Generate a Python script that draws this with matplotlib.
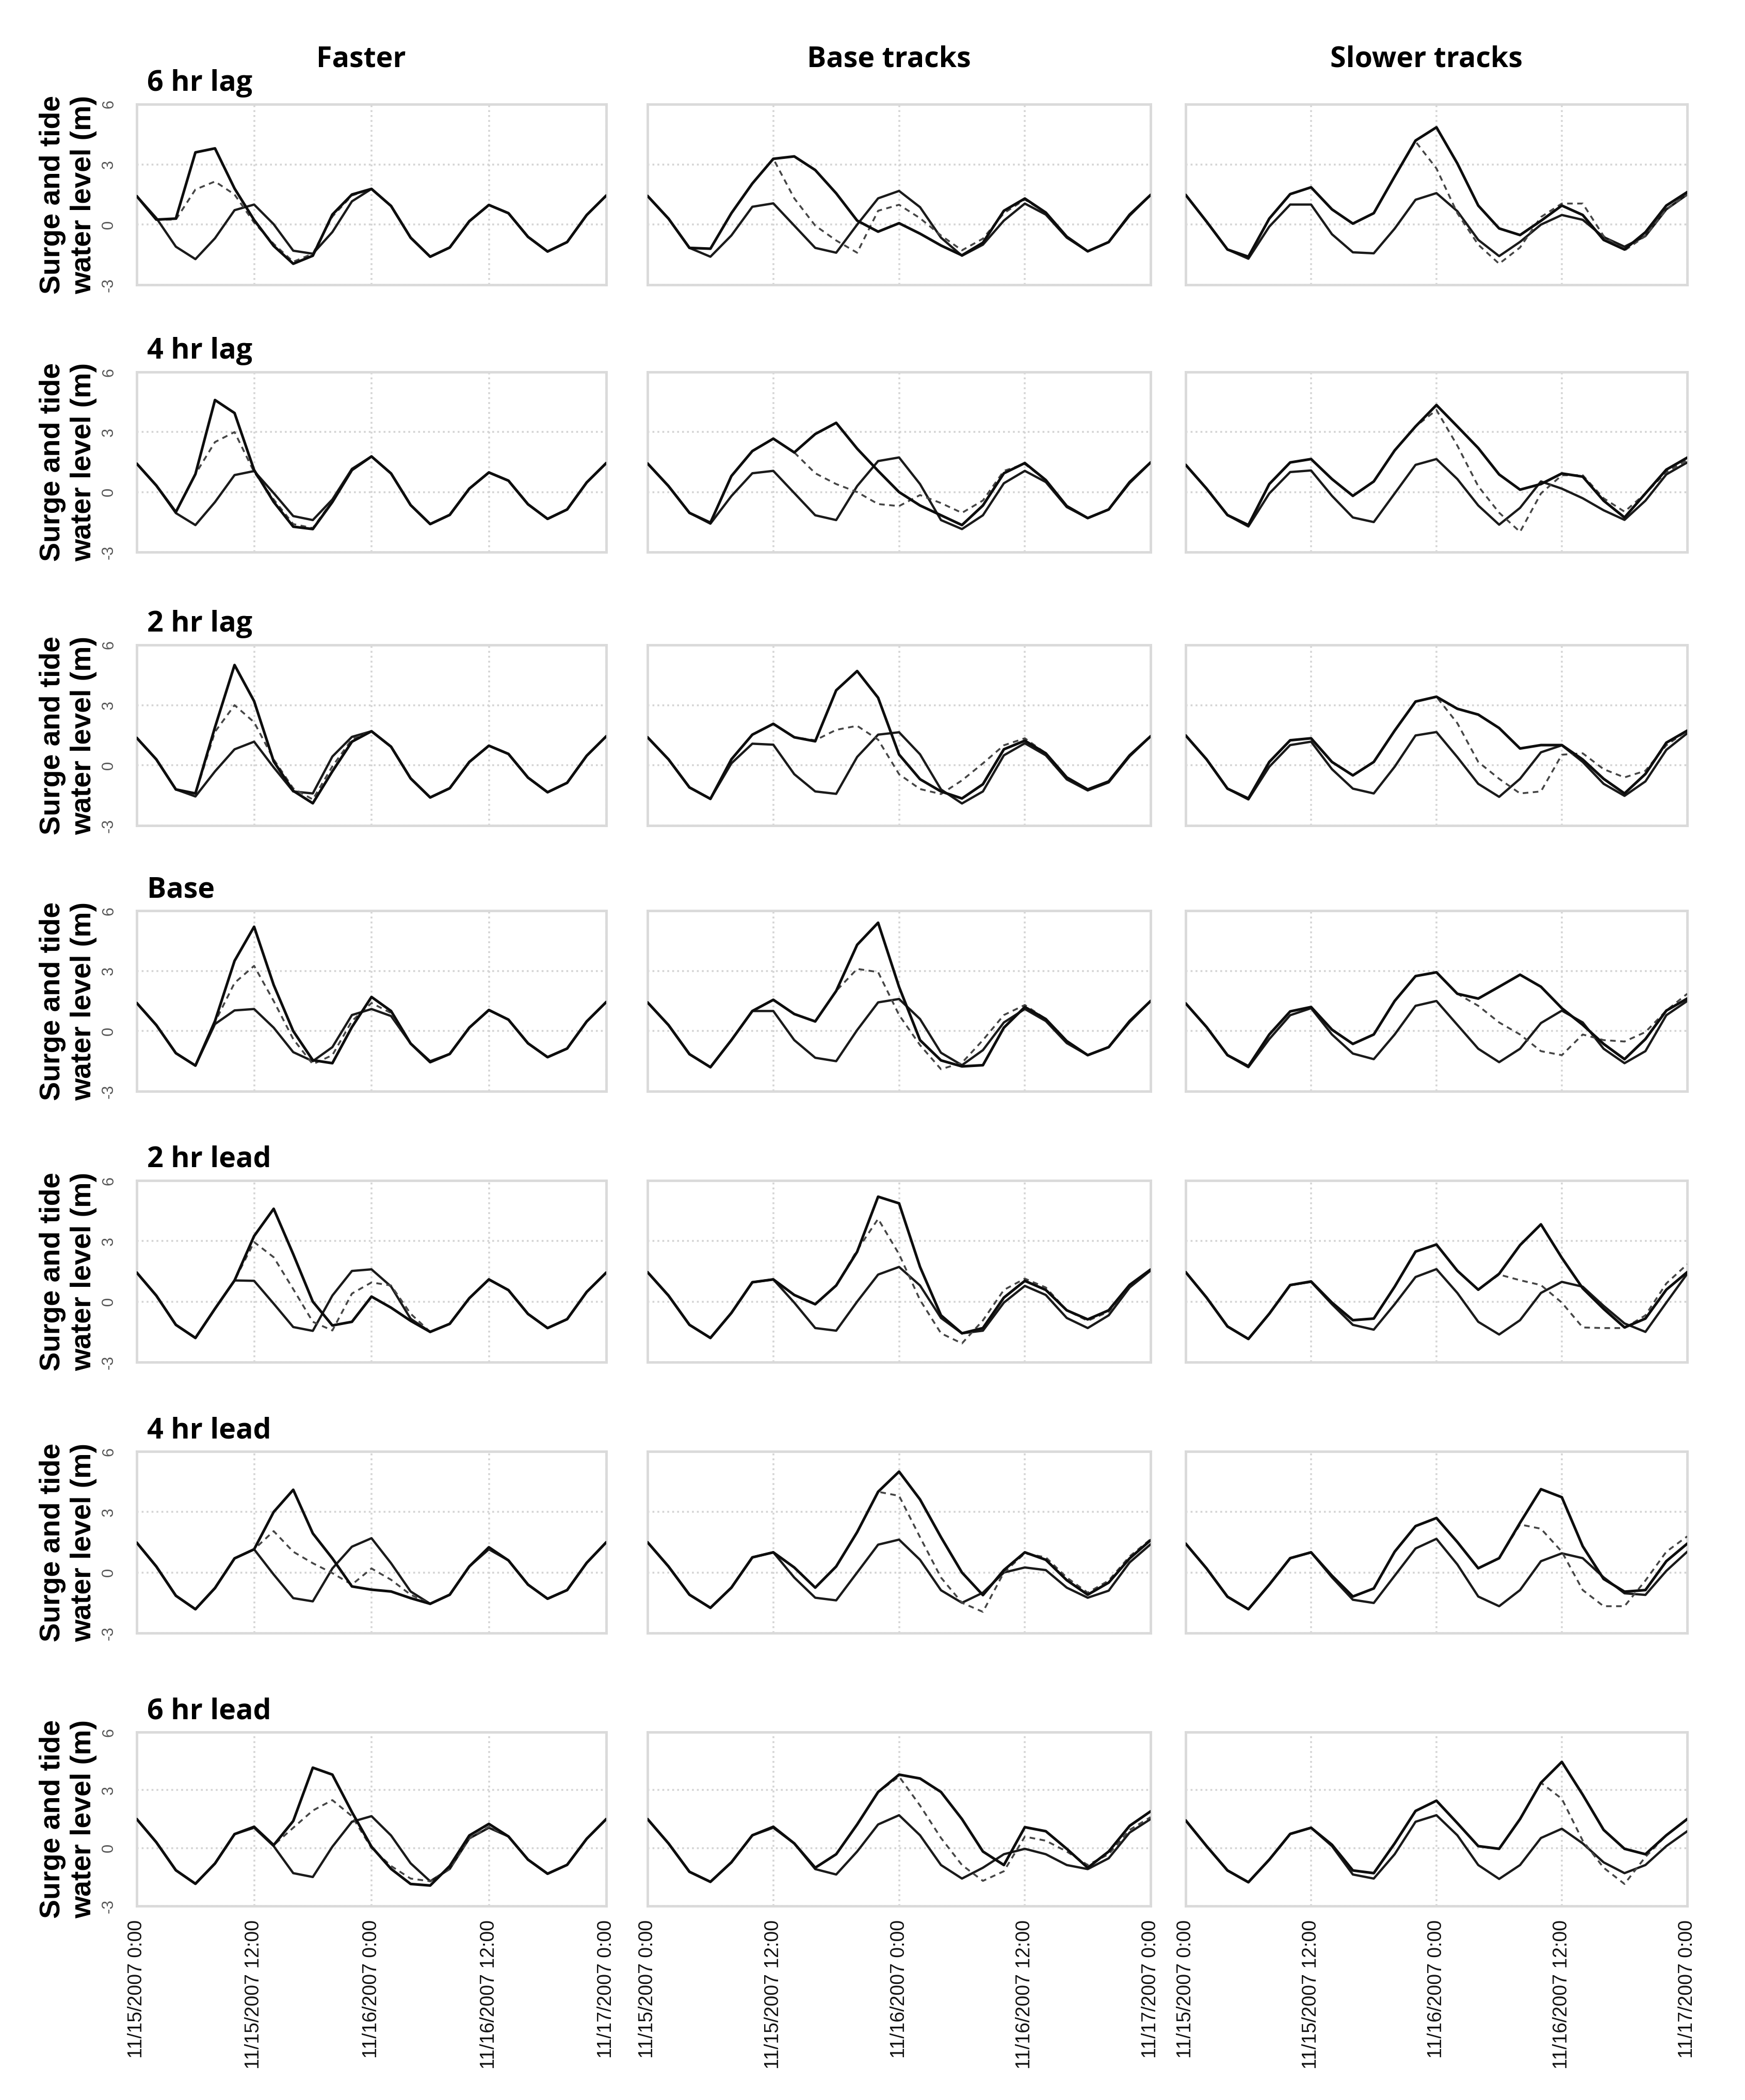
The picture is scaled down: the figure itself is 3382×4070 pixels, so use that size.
import matplotlib
matplotlib.use("Agg")
import matplotlib.pyplot as plt

# ---------------- data (hours since 11/15/2007 0:00, 2-hour steps) ----------------
HOURS = list(range(0, 49, 2))
X_TICKS = [0, 12, 24, 36, 48]
X_TICK_LABELS = ['11/15/2007 0:00', '11/15/2007 12:00', '11/16/2007 0:00',
                 '11/16/2007 12:00', '11/17/2007 0:00']
Y_TICKS = [-3, 0, 3, 6]
Y_TICK_LABELS = ['-3', '0', '3', '6']
COLUMN_TITLES = ['Faster', 'Base tracks', 'Slower tracks']
ROW_LABELS = ['6 hr lag', '4 hr lag', '2 hr lag', 'Base', '2 hr lead', '4 hr lead', '6 hr lead']
Y_LABEL = 'Surge and tide\nwater level (m)'

# Faster column
F_LAG6_S = [1.42, 0.25, 0.3, 3.6, 3.8, 1.8, 0.23, -1.06, -1.95, -1.55, 0.5, 1.5, 1.78, 0.93, -0.65, -1.6, -1.14, 0.17, 0.98, 0.57, -0.61, -1.34, -0.87, 0.48, 1.45]
F_LAG6_D = [1.42, 0.25, 0.25, 1.75, 2.15, 1.5, 0.1, -0.96, -1.85, -1.45, 0.4, 1.45, 1.78, 0.93, -0.65, -1.6, -1.14, 0.17, 0.98, 0.57, -0.61, -1.34, -0.87, 0.48, 1.45]
F_LAG6_T = [1.42, 0.33, -1.1, -1.72, -0.68, 0.72, 1.0, 0.02, -1.3, -1.45, -0.37, 1.16, 1.78, 0.93, -0.65, -1.6, -1.14, 0.17, 0.98, 0.57, -0.61, -1.34, -0.87, 0.48, 1.45]

F_LAG4_S = [1.42, 0.33, -1.0, 0.9, 4.6, 3.95, 1.1, -0.49, -1.73, -1.85, -0.5, 1.1, 1.78, 0.93, -0.65, -1.6, -1.14, 0.17, 0.98, 0.57, -0.61, -1.34, -0.87, 0.48, 1.45]
F_LAG4_D = [1.42, 0.33, -1.0, 0.9, 2.5, 3.0, 1.0, -0.37, -1.6, -1.8, -0.45, 1.12, 1.78, 0.93, -0.65, -1.6, -1.14, 0.17, 0.98, 0.57, -0.61, -1.34, -0.87, 0.48, 1.45]
F_LAG4_T = [1.42, 0.33, -1.05, -1.65, -0.5, 0.85, 1.05, -0.05, -1.2, -1.4, -0.37, 1.16, 1.78, 0.93, -0.65, -1.6, -1.14, 0.17, 0.98, 0.57, -0.61, -1.34, -0.87, 0.48, 1.45]

F_LAG2_S = [1.37, 0.3, -1.2, -1.4, 1.9, 5.0, 3.2, 0.2, -1.27, -1.89, -0.3, 1.18, 1.7, 0.93, -0.65, -1.6, -1.14, 0.17, 0.98, 0.57, -0.61, -1.34, -0.87, 0.48, 1.45]
F_LAG2_D = [1.37, 0.3, -1.2, -1.42, 1.67, 3.0, 2.15, 0.3, -1.15, -1.7, -0.05, 1.3, 1.7, 0.93, -0.65, -1.6, -1.14, 0.17, 0.98, 0.57, -0.61, -1.34, -0.87, 0.48, 1.45]
F_LAG2_T = [1.37, 0.3, -1.2, -1.55, -0.3, 0.8, 1.18, -0.1, -1.3, -1.4, 0.44, 1.42, 1.7, 0.93, -0.65, -1.6, -1.14, 0.17, 0.98, 0.57, -0.61, -1.34, -0.87, 0.48, 1.45]

F_BASE_S = [1.4, 0.3, -1.1, -1.72, 0.5, 3.5, 5.2, 2.3, 0.0, -1.45, -1.6, 0.2, 1.7, 1.0, -0.62, -1.55, -1.14, 0.17, 1.05, 0.57, -0.61, -1.3, -0.87, 0.48, 1.45]
F_BASE_D = [1.4, 0.3, -1.1, -1.72, 0.45, 2.4, 3.25, 1.5, -0.4, -1.65, -1.2, 0.5, 1.4, 0.9, -0.62, -1.55, -1.14, 0.17, 1.05, 0.57, -0.61, -1.3, -0.87, 0.48, 1.45]
F_BASE_T = [1.4, 0.3, -1.1, -1.72, 0.35, 1.03, 1.1, 0.17, -1.05, -1.5, -0.8, 0.8, 1.1, 0.75, -0.62, -1.5, -1.14, 0.17, 1.05, 0.57, -0.61, -1.3, -0.87, 0.48, 1.45]

F_LEAD2_S = [1.44, 0.3, -1.15, -1.8, -0.35, 1.05, 3.25, 4.6, 2.35, 0.0, -1.18, -1.0, 0.25, -0.3, -0.95, -1.5, -1.1, 0.17, 1.1, 0.57, -0.61, -1.31, -0.87, 0.48, 1.44]
F_LEAD2_D = [1.44, 0.3, -1.15, -1.8, -0.35, 1.05, 2.95, 2.2, 0.62, -1.0, -1.43, 0.4, 0.95, 0.8, -0.6, -1.5, -1.1, 0.17, 1.1, 0.57, -0.61, -1.31, -0.87, 0.48, 1.44]
F_LEAD2_T = [1.44, 0.3, -1.15, -1.8, -0.35, 1.05, 1.03, -0.1, -1.26, -1.45, 0.3, 1.52, 1.6, 0.75, -0.85, -1.5, -1.1, 0.17, 1.1, 0.57, -0.61, -1.31, -0.87, 0.48, 1.44]

F_LEAD4_S = [1.48, 0.3, -1.15, -1.82, -0.77, 0.7, 1.15, 3.0, 4.1, 1.94, 0.7, -0.69, -0.85, -0.94, -1.27, -1.55, -1.1, 0.3, 1.25, 0.6, -0.6, -1.3, -0.87, 0.48, 1.5]
F_LEAD4_D = [1.48, 0.3, -1.15, -1.82, -0.77, 0.7, 1.15, 2.05, 1.03, 0.46, -0.03, -0.6, 0.2, -0.36, -1.1, -1.55, -1.1, 0.3, 1.2, 0.6, -0.6, -1.3, -0.87, 0.48, 1.5]
F_LEAD4_T = [1.48, 0.3, -1.15, -1.82, -0.77, 0.7, 1.15, -0.1, -1.27, -1.43, 0.2, 1.28, 1.7, 0.46, -0.94, -1.55, -1.1, 0.3, 1.15, 0.6, -0.6, -1.3, -0.87, 0.48, 1.5]

F_LEAD6_S = [1.5, 0.3, -1.15, -1.85, -0.8, 0.72, 1.1, 0.15, 1.4, 4.16, 3.8, 1.86, 0.07, -1.08, -1.86, -1.94, -0.93, 0.65, 1.25, 0.6, -0.6, -1.33, -0.87, 0.48, 1.5]
F_LEAD6_D = [1.5, 0.3, -1.15, -1.85, -0.8, 0.72, 1.05, 0.15, 1.05, 1.94, 2.48, 1.65, 0.0, -0.93, -1.58, -1.72, -1.08, 0.5, 1.1, 0.6, -0.6, -1.33, -0.87, 0.48, 1.5]
F_LEAD6_T = [1.5, 0.3, -1.15, -1.85, -0.8, 0.72, 1.05, 0.1, -1.3, -1.5, 0.07, 1.36, 1.65, 0.65, -0.79, -1.72, -1.08, 0.5, 1.05, 0.6, -0.6, -1.33, -0.87, 0.48, 1.5]

# Base tracks column
B_LAG6_S = [1.43, 0.3, -1.16, -1.2, 0.57, 2.05, 3.28, 3.4, 2.72, 1.56, 0.2, -0.35, 0.07, -0.45, -1.04, -1.53, -0.9, 0.69, 1.3, 0.6, -0.6, -1.33, -0.87, 0.5, 1.48]
B_LAG6_D = [1.43, 0.3, -1.16, -1.2, 0.57, 2.05, 3.28, 1.31, -0.05, -0.79, -1.4, 0.69, 0.99, 0.32, -0.54, -1.28, -0.7, 0.57, 1.25, 0.6, -0.6, -1.33, -0.87, 0.5, 1.48]
B_LAG6_T = [1.43, 0.3, -1.16, -1.6, -0.54, 0.89, 1.06, -0.05, -1.16, -1.4, 0.0, 1.31, 1.68, 0.87, -0.65, -1.55, -1.0, 0.2, 1.05, 0.5, -0.65, -1.33, -0.87, 0.45, 1.48]

B_LAG4_S = [1.43, 0.3, -1.04, -1.53, 0.8, 2.05, 2.67, 1.98, 2.9, 3.46, 2.17, 1.06, 0.0, -0.67, -1.16, -1.65, -0.67, 0.94, 1.45, 0.6, -0.7, -1.3, -0.87, 0.5, 1.48]
B_LAG4_D = [1.43, 0.3, -1.04, -1.53, 0.8, 2.05, 2.67, 1.98, 0.94, 0.4, 0.0, -0.6, -0.7, -0.15, -0.55, -1.04, -0.42, 1.06, 1.4, 0.6, -0.7, -1.3, -0.87, 0.5, 1.48]
B_LAG4_T = [1.43, 0.3, -1.04, -1.58, -0.2, 0.94, 1.06, -0.05, -1.16, -1.4, 0.3, 1.55, 1.73, 0.4, -1.4, -1.85, -1.16, 0.44, 1.06, 0.5, -0.75, -1.3, -0.87, 0.45, 1.48]

B_LAG2_S = [1.4, 0.3, -1.1, -1.67, 0.3, 1.53, 2.07, 1.4, 1.2, 3.74, 4.7, 3.37, 0.54, -0.69, -1.3, -1.65, -0.94, 0.8, 1.23, 0.6, -0.6, -1.2, -0.8, 0.5, 1.45]
B_LAG2_D = [1.4, 0.3, -1.1, -1.67, 0.3, 1.53, 2.07, 1.4, 1.25, 1.77, 1.97, 1.28, -0.44, -1.18, -1.43, -0.75, 0.1, 1.0, 1.35, 0.6, -0.6, -1.2, -0.8, 0.5, 1.45]
B_LAG2_T = [1.4, 0.3, -1.1, -1.67, 0.1, 1.08, 1.03, -0.44, -1.3, -1.42, 0.42, 1.53, 1.65, 0.55, -1.2, -1.9, -1.3, 0.5, 1.1, 0.5, -0.7, -1.25, -0.85, 0.45, 1.45]

B_BASE_S = [1.43, 0.3, -1.15, -1.8, -0.45, 1.0, 1.56, 0.85, 0.48, 2.0, 4.3, 5.4, 2.2, -0.45, -1.46, -1.76, -1.7, 0.17, 1.2, 0.6, -0.5, -1.2, -0.8, 0.5, 1.5]
B_BASE_D = [1.43, 0.3, -1.15, -1.8, -0.45, 1.0, 1.56, 0.85, 0.48, 2.0, 3.1, 2.94, 0.8, -0.7, -1.9, -1.58, -0.45, 0.8, 1.3, 0.6, -0.5, -1.2, -0.8, 0.5, 1.5]
B_BASE_T = [1.43, 0.3, -1.15, -1.8, -0.45, 1.0, 1.0, -0.45, -1.33, -1.5, 0.05, 1.43, 1.6, 0.6, -1.08, -1.7, -0.95, 0.43, 1.1, 0.5, -0.6, -1.2, -0.8, 0.45, 1.5]

B_LEAD2_S = [1.46, 0.3, -1.15, -1.8, -0.56, 0.96, 1.1, 0.33, -0.13, 0.8, 2.47, 5.2, 4.87, 1.72, -0.68, -1.57, -1.31, 0.2, 1.03, 0.58, -0.43, -0.88, -0.43, 0.83, 1.59]
B_LEAD2_D = [1.46, 0.3, -1.15, -1.8, -0.56, 0.96, 1.1, 0.33, -0.13, 0.8, 2.55, 4.1, 2.35, 0.08, -1.57, -2.07, -0.93, 0.58, 1.14, 0.7, -0.43, -0.95, -0.5, 0.8, 1.59]
B_LEAD2_T = [1.46, 0.3, -1.15, -1.8, -0.56, 0.96, 1.1, -0.05, -1.31, -1.44, 0.0, 1.34, 1.72, 0.8, -0.81, -1.57, -1.44, -0.05, 0.78, 0.33, -0.81, -1.31, -0.68, 0.7, 1.54]

B_LEAD4_S = [1.5, 0.3, -1.1, -1.75, -0.75, 0.75, 1.0, 0.25, -0.75, 0.3, 2.0, 4.0, 5.0, 3.62, 1.75, 0.0, -1.12, 0.12, 1.0, 0.63, -0.38, -1.1, -0.5, 0.7, 1.6]
B_LEAD4_D = [1.5, 0.3, -1.1, -1.75, -0.75, 0.75, 1.0, 0.25, -0.75, 0.3, 2.0, 4.0, 3.8, 1.75, -0.25, -1.5, -1.95, 0.0, 0.95, 0.75, -0.25, -1.0, -0.4, 0.8, 1.65]
B_LEAD4_T = [1.5, 0.3, -1.1, -1.75, -0.75, 0.75, 1.0, -0.25, -1.25, -1.38, 0.0, 1.38, 1.63, 0.63, -0.88, -1.5, -1.0, 0.0, 0.25, 0.12, -0.75, -1.25, -0.9, 0.5, 1.4]

B_LEAD6_S = [1.5, 0.24, -1.23, -1.75, -0.74, 0.66, 1.1, 0.24, -1.02, -0.32, 1.22, 2.9, 3.8, 3.6, 2.9, 1.5, -0.18, -0.88, 1.08, 0.87, -0.04, -1.02, -0.18, 1.15, 1.9]
B_LEAD6_D = [1.5, 0.24, -1.23, -1.75, -0.74, 0.66, 1.05, 0.24, -1.02, -0.32, 1.22, 2.9, 3.7, 2.2, 0.52, -0.88, -1.7, -1.2, 0.59, 0.38, -0.18, -0.88, -0.32, 0.94, 1.6]
B_LEAD6_T = [1.5, 0.24, -1.23, -1.75, -0.74, 0.66, 1.05, 0.24, -1.09, -1.37, -0.18, 1.22, 1.7, 0.66, -0.88, -1.58, -1.02, -0.32, -0.04, -0.32, -0.88, -1.09, -0.53, 0.8, 1.5]

# Slower tracks column
S_LAG6_S = [1.48, 0.15, -1.24, -1.6, 0.3, 1.52, 1.86, 0.76, 0.05, 0.57, 2.4, 4.19, 4.85, 3.05, 0.95, -0.19, -0.52, 0.19, 0.95, 0.48, -0.76, -1.24, -0.38, 0.95, 1.62]
S_LAG6_D = [1.48, 0.15, -1.24, -1.6, 0.3, 1.52, 1.86, 0.76, 0.05, 0.57, 2.4, 4.14, 2.8, 0.57, -1.0, -1.95, -1.14, 0.38, 1.05, 1.05, -0.57, -1.29, -0.57, 0.76, 1.5]
S_LAG6_T = [1.48, 0.15, -1.24, -1.7, -0.1, 1.0, 1.0, -0.48, -1.38, -1.43, -0.2, 1.24, 1.57, 0.67, -0.76, -1.57, -0.86, 0.0, 0.48, 0.24, -0.62, -1.1, -0.57, 0.76, 1.5]

S_LAG4_S = [1.36, 0.17, -1.15, -1.65, 0.4, 1.48, 1.65, 0.65, -0.19, 0.53, 2.08, 3.28, 4.35, 3.28, 2.2, 0.88, 0.12, 0.4, 0.93, 0.77, -0.43, -1.27, -0.07, 1.12, 1.72]
S_LAG4_D = [1.36, 0.17, -1.15, -1.65, 0.4, 1.48, 1.65, 0.65, -0.19, 0.53, 2.08, 3.28, 4.1, 2.32, 0.29, -1.03, -1.99, -0.07, 0.84, 0.84, -0.31, -0.98, -0.07, 1.0, 1.6]
S_LAG4_T = [1.36, 0.17, -1.15, -1.72, -0.07, 1.0, 1.08, -0.19, -1.27, -1.5, -0.07, 1.36, 1.65, 0.65, -0.67, -1.63, -0.79, 0.53, 0.17, -0.31, -0.91, -1.39, -0.43, 0.88, 1.48]

S_LAG2_S = [1.49, 0.3, -1.16, -1.65, 0.17, 1.25, 1.35, 0.17, -0.5, 0.17, 1.73, 3.18, 3.42, 2.82, 2.53, 1.86, 0.84, 1.01, 1.01, 0.29, -0.67, -1.4, -0.43, 1.13, 1.73]
S_LAG2_D = [1.49, 0.3, -1.16, -1.65, 0.17, 1.25, 1.35, 0.17, -0.5, 0.17, 1.73, 3.18, 3.42, 2.1, 0.17, -0.67, -1.4, -1.3, 0.53, 0.6, -0.19, -0.6, -0.27, 1.0, 1.73]
S_LAG2_T = [1.49, 0.3, -1.16, -1.7, -0.07, 1.01, 1.18, -0.19, -1.16, -1.4, -0.07, 1.49, 1.66, 0.41, -0.92, -1.57, -0.67, 0.65, 1.0, 0.17, -0.92, -1.52, -0.8, 0.77, 1.6]

S_BASE_S = [1.38, 0.2, -1.2, -1.75, -0.17, 0.98, 1.2, 0.07, -0.64, -0.17, 1.5, 2.74, 2.93, 1.86, 1.62, 2.21, 2.81, 2.21, 1.14, 0.31, -0.64, -1.4, -0.4, 1.02, 1.62]
S_BASE_D = [1.38, 0.2, -1.2, -1.75, -0.17, 0.98, 1.2, 0.07, -0.64, -0.17, 1.5, 2.74, 2.93, 1.86, 1.26, 0.43, -0.17, -1.0, -1.2, -0.17, -0.45, -0.52, -0.05, 1.02, 1.86]
S_BASE_T = [1.38, 0.2, -1.2, -1.8, -0.4, 0.79, 1.14, -0.17, -1.12, -1.4, -0.17, 1.26, 1.5, 0.31, -0.88, -1.55, -0.88, 0.4, 1.02, 0.43, -0.88, -1.6, -1.0, 0.79, 1.5]

S_LEAD2_S = [1.46, 0.2, -1.23, -1.85, -0.6, 0.82, 1.0, -0.05, -0.92, -0.84, 0.74, 2.48, 2.83, 1.53, 0.59, 1.38, 2.8, 3.83, 2.17, 0.66, -0.36, -1.28, -0.84, 0.59, 1.46]
S_LEAD2_D = [1.46, 0.2, -1.23, -1.85, -0.6, 0.82, 1.0, -0.05, -0.92, -0.84, 0.74, 2.48, 2.83, 1.53, 0.59, 1.34, 1.06, 0.82, -0.05, -1.28, -1.31, -1.31, -0.68, 0.9, 1.85]
S_LEAD2_T = [1.46, 0.2, -1.23, -1.85, -0.6, 0.82, 0.98, -0.13, -1.15, -1.39, -0.13, 1.22, 1.61, 0.43, -1.0, -1.63, -0.92, 0.43, 0.98, 0.74, -0.21, -1.08, -1.5, -0.05, 1.38]

S_LEAD4_S = [1.43, 0.2, -1.2, -1.82, -0.6, 0.71, 1.0, -0.16, -1.19, -0.79, 1.03, 2.3, 2.7, 1.51, 0.21, 0.71, 2.46, 4.13, 3.73, 1.3, -0.32, -0.95, -0.87, 0.56, 1.43]
S_LEAD4_D = [1.43, 0.2, -1.2, -1.82, -0.6, 0.71, 1.0, -0.16, -1.19, -0.79, 1.03, 2.3, 2.7, 1.51, 0.21, 0.71, 2.38, 2.17, 1.03, -0.87, -1.67, -1.67, -0.4, 1.03, 1.79]
S_LEAD4_T = [1.43, 0.2, -1.2, -1.82, -0.6, 0.71, 1.0, -0.24, -1.35, -1.51, -0.16, 1.19, 1.67, 0.4, -1.19, -1.67, -0.87, 0.56, 0.95, 0.71, -0.24, -1.03, -1.11, 0.08, 1.03]

S_LEAD6_S = [1.43, 0.1, -1.16, -1.77, -0.6, 0.73, 1.05, 0.17, -1.16, -1.3, 0.24, 1.92, 2.45, 1.29, 0.1, -0.04, 1.5, 3.38, 4.46, 2.76, 0.94, -0.04, -0.32, 0.66, 1.5]
S_LEAD6_D = [1.43, 0.1, -1.16, -1.77, -0.6, 0.73, 1.05, 0.17, -1.16, -1.3, 0.24, 1.92, 2.45, 1.29, 0.1, -0.04, 1.5, 3.38, 2.55, 0.38, -1.02, -1.86, -0.46, 0.66, 1.5]
S_LEAD6_T = [1.43, 0.1, -1.16, -1.77, -0.6, 0.73, 1.05, 0.1, -1.37, -1.58, -0.32, 1.36, 1.7, 0.66, -0.88, -1.6, -0.88, 0.52, 1.0, 0.24, -0.74, -1.3, -0.88, 0.1, 0.87]

PANELS = [
    [(F_LAG6_S, F_LAG6_D, F_LAG6_T), (B_LAG6_S, B_LAG6_D, B_LAG6_T), (S_LAG6_S, S_LAG6_D, S_LAG6_T)],
    [(F_LAG4_S, F_LAG4_D, F_LAG4_T), (B_LAG4_S, B_LAG4_D, B_LAG4_T), (S_LAG4_S, S_LAG4_D, S_LAG4_T)],
    [(F_LAG2_S, F_LAG2_D, F_LAG2_T), (B_LAG2_S, B_LAG2_D, B_LAG2_T), (S_LAG2_S, S_LAG2_D, S_LAG2_T)],
    [(F_BASE_S, F_BASE_D, F_BASE_T), (B_BASE_S, B_BASE_D, B_BASE_T), (S_BASE_S, S_BASE_D, S_BASE_T)],
    [(F_LEAD2_S, F_LEAD2_D, F_LEAD2_T), (B_LEAD2_S, B_LEAD2_D, B_LEAD2_T), (S_LEAD2_S, S_LEAD2_D, S_LEAD2_T)],
    [(F_LEAD4_S, F_LEAD4_D, F_LEAD4_T), (B_LEAD4_S, B_LEAD4_D, B_LEAD4_T), (S_LEAD4_S, S_LEAD4_D, S_LEAD4_T)],
    [(F_LEAD6_S, F_LEAD6_D, F_LEAD6_T), (B_LEAD6_S, B_LEAD6_D, B_LEAD6_T), (S_LEAD6_S, S_LEAD6_D, S_LEAD6_T)],
]

# ---------------- layout ----------------
W, H = 3382, 4070
fig = plt.figure(figsize=(W / 100, H / 100), dpi=100)
fig.patch.set_facecolor('white')

COL_PX = [(265, 1175), (1255, 2230), (2298, 3270)]
ROW_PX = [(202, 552), (721, 1070), (1250, 1600), (1765, 2115),
          (2288, 2640), (2813, 3165), (3357, 3694)]

TITLE_FONT = ['Open Sans', 'DejaVu Sans']
ARIAL = ['Liberation Sans', 'DejaVu Sans']
GRID = '#d4d4d4'

for r, (y0, y1) in enumerate(ROW_PX):
    for c, (x0, x1) in enumerate(COL_PX):
        ax = fig.add_axes([x0 / W, 1 - y1 / H, (x1 - x0) / W, (y1 - y0) / H])
        s_vals, d_vals, t_vals = PANELS[r][c]
        ax.plot(HOURS, t_vals, color='#1a1a1a', lw=3.2, zorder=3,
                solid_joinstyle='round', solid_capstyle='round')
        ax.plot(HOURS, d_vals, color='#454545', lw=2.6, linestyle=(0, (3, 2.4)), zorder=4,
                dash_joinstyle='round')
        ax.plot(HOURS, s_vals, color='#0d0d0d', lw=3.7, zorder=5,
                solid_joinstyle='round', solid_capstyle='round')
        ax.set_xlim(0, 48)
        ax.set_ylim(-3, 6)
        ax.set_xticks(X_TICKS)
        ax.set_yticks(Y_TICKS)
        ax.grid(True, color=GRID, linestyle=':', linewidth=2.6)
        ax.set_axisbelow(True)
        for sp in ax.spines.values():
            sp.set_color('#dadada')
            sp.set_linewidth(3.5)
        ax.tick_params(length=0)
        if c == 0:
            ax.set_yticklabels(Y_TICK_LABELS, rotation=90, va='center', ha='right',
                               fontsize=22, family=ARIAL, color='#555555')
            ax.tick_params(axis='y', pad=28)
            yc = 1 - (y0 + y1) / 2 / H
            fig.text(132 / W, yc, Y_LABEL, rotation=90, ha='center', va='center',
                     multialignment='center', fontsize=40, fontweight='bold', family=ARIAL)
            fig.text(285 / W, 1 - (y0 - 26) / H, ROW_LABELS[r], ha='left', va='baseline',
                     fontsize=40, fontweight='bold', family=TITLE_FONT)
        else:
            ax.set_yticklabels([])
        if r == len(ROW_PX) - 1:
            ax.set_xticklabels(X_TICK_LABELS, rotation=90, fontsize=27, family=ARIAL,
                               color='#111111')
            ax.tick_params(axis='x', pad=19)
        else:
            ax.set_xticklabels([])
        if r == 0:
            fig.text(((x0 + x1) / 2 - 20) / W, 1 - 130 / H, COLUMN_TITLES[c], ha='center',
                     va='baseline', fontsize=40, fontweight='bold', family=TITLE_FONT)

fig.savefig('out.png', dpi=100, facecolor='white')
